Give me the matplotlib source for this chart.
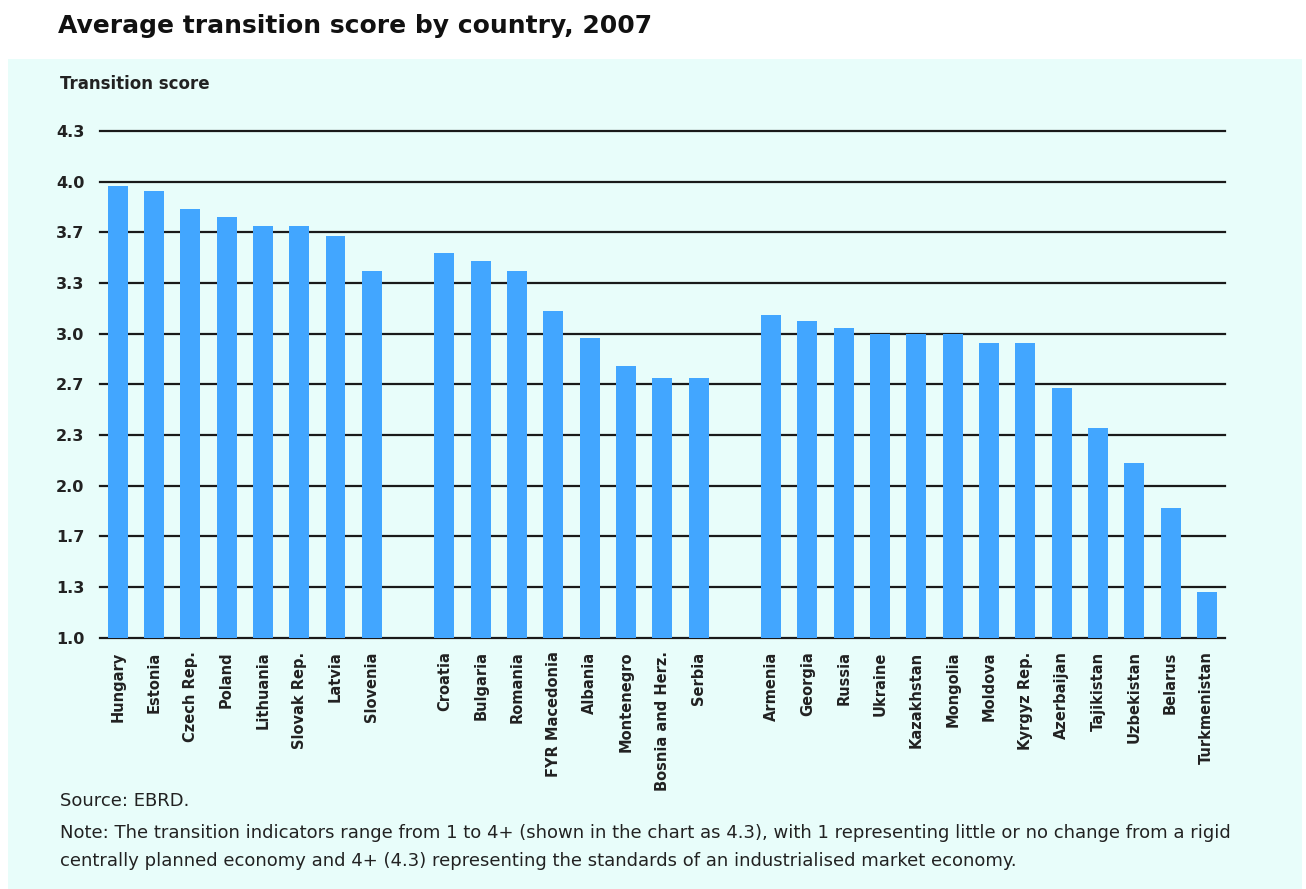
import numpy as np
import matplotlib
matplotlib.use("Agg")
from matplotlib import pyplot as plt
from matplotlib.patches import Rectangle

# three country groups, separated by an empty slot
group1 = ['Hungary', 'Estonia', 'Czech Rep.', 'Poland', 'Lithuania',
          'Slovak Rep.', 'Latvia', 'Slovenia']
scores1 = [3.97, 3.94, 3.82, 3.77, 3.71, 3.71, 3.64, 3.41]

group2 = ['Croatia', 'Bulgaria', 'Romania', 'FYR Macedonia', 'Albania',
          'Montenegro', 'Bosnia and Herz.', 'Serbia']
scores2 = [3.53, 3.48, 3.41, 3.15, 2.97, 2.79, 2.71, 2.71]

group3 = ['Armenia', 'Georgia', 'Russia', 'Ukraine', 'Kazakhstan',
          'Mongolia', 'Moldova', 'Kyrgyz Rep.', 'Azerbaijan', 'Tajikistan',
          'Uzbekistan', 'Belarus', 'Turkmenistan']
scores3 = [3.12, 3.08, 3.04, 3.00, 3.00, 3.00, 2.94, 2.94, 2.64, 2.38,
           2.15, 1.85, 1.30]

ytick_vals = [1.0, 4/3, 5/3, 2.0, 7/3, 8/3, 3.0, 10/3, 11/3, 4.0, 13/3]

panel = '#E8FDFA'
bar_col = '#42A6FF'

# build slot positions with one empty slot between groups
labels = group1 + group2 + group3
scores = scores1 + scores2 + scores3
pos = list(range(len(group1)))
pos += [p + len(group1) + 1 for p in range(len(group2))]
pos += [p + len(group1) + len(group2) + 2 for p in range(len(group3))]

fig = plt.figure(figsize=(13.06, 8.89), dpi=100)
fig.patches.append(Rectangle((8/1306, 0), 1294/1306, 1 - 59/889,
                             transform=fig.transFigure, facecolor=panel,
                             edgecolor='none', zorder=-10))

ax = fig.add_axes([99.5/1306, 1 - 637.5/889, (1225 - 99.5)/1306, (637.5 - 131)/889])
ax.set_facecolor('none')

for v in ytick_vals:
    ax.axhline(v, color='#1a1a1a', lw=1.6, zorder=1, clip_on=False)

ax.bar(pos, [s - 1 for s in scores], bottom=1, width=0.55, color=bar_col,
       zorder=2)

ax.set_xlim(-0.5, pos[-1] + 0.5)
ax.set_ylim(1, 13/3)
for sp in ax.spines.values():
    sp.set_visible(False)

ax.set_yticks(ytick_vals)
ax.set_yticklabels(['%.1f' % v for v in ytick_vals], fontsize=11.5,
                   fontweight='bold', color='#222222')
ax.tick_params(axis='y', length=0, pad=11)
ax.set_xticks(pos)
ax.set_xticklabels(labels, rotation=90, fontsize=10.5, fontweight='bold',
                   color='#222222', va='top', ha='center')
ax.tick_params(axis='x', length=0, pad=10)

fig.text(60/1306, 1 - 84/889, 'Transition score', fontsize=12,
         fontweight='bold', color='#222222', va='center')

fig.text(58/1306, 1 - 26/889, 'Average transition score by country, 2007',
         fontsize=18, fontweight='bold', color='#111111', va='center')

fig.text(60/1306, 1 - 801/889, 'Source: EBRD.', fontsize=13,
         color='#222222', va='center')
fig.text(60/1306, 1 - 833/889,
         'Note: The transition indicators range from 1 to 4+ (shown in the chart as 4.3), '
         'with 1 representing little or no change from a rigid',
         fontsize=13, color='#222222', va='center')
fig.text(60/1306, 1 - 861/889,
         'centrally planned economy and 4+ (4.3) representing the standards '
         'of an industrialised market economy.',
         fontsize=13, color='#222222', va='center')

fig.savefig('out.png', dpi=100, facecolor='white')
